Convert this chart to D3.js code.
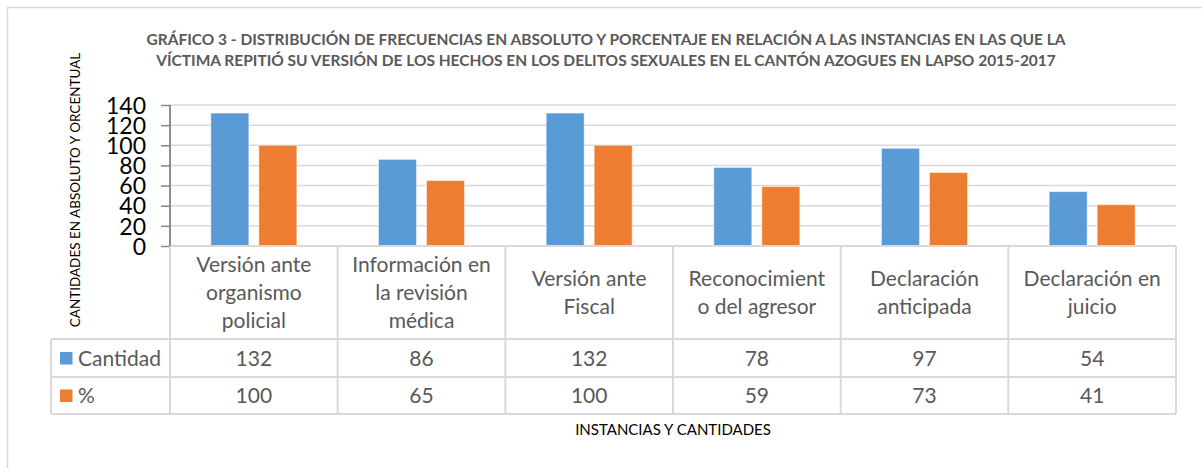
<!DOCTYPE html>
<html>
<head>
<meta charset="utf-8">
<script src="https://cdn.jsdelivr.net/npm/d3@7"></script>
<style>
  body { margin: 0; background: #fff; }
  svg { display: block; font-family: Lato, "Open Sans", sans-serif; }
</style>
</head>
<body>
<div id="chart"></div>
<script>
// Chart data
const categories = [
  "Versión ante\norganismo\npolicial",
  "Información en\nla revisión\nmédica",
  "Versión ante\nFiscal",
  "Reconocimient\no del agresor",
  "Declaración\nanticipada",
  "Declaración en\njuicio"
];
const seriesNames = ["Cantidad", "%"];
const cantidad = [132, 86, 132, 78, 97, 54];
const porcentaje = [100, 65, 100, 59, 73, 41];
const yTicks = [0, 20, 40, 60, 80, 100, 120, 140];

const titleLines = [
  "GRÁFICO 3 - DISTRIBUCIÓN DE FRECUENCIAS EN ABSOLUTO Y PORCENTAJE EN RELACIÓN A LAS INSTANCIAS EN LAS QUE LA",
  "VÍCTIMA REPITIÓ SU VERSIÓN DE LOS HECHOS EN LOS DELITOS SEXUALES EN EL CANTÓN AZOGUES EN LAPSO 2015-2017"
];
const yTitle = "CANTIDADES EN ABSOLUTO Y ORCENTUAL";
const xTitle = "INSTANCIAS Y CANTIDADES";

const W = 1202, H = 468;
const M = { left: 170, right: 1176, top: 105, bottom: 246 };
const table = { left: 51, header: 339, row1: 377, row2: 414 };
const colors = { "Cantidad": "#5b9bd5", "%": "#ed7d31" };
const grid = "#d9d9d9";
const textGray = "#595959";
const fs = 21;

const svg = d3.select("#chart").append("svg")
  .attr("width", W).attr("height", H);

// chart border
svg.append("rect")
  .attr("x", 7.5).attr("y", 7.5)
  .attr("width", W + 10).attr("height", H + 10)
  .attr("fill", "none").attr("stroke", grid).attr("stroke-width", 1.5);

const x = d3.scaleBand().domain(categories).range([M.left, M.right]);
const xs = d3.scaleBand().domain(seriesNames).range([0, x.bandwidth()])
  .paddingInner(0.208).paddingOuter(0.85);
const y = d3.scaleLinear().domain([0, 140]).range([M.bottom, M.top]);

// gridlines
svg.append("g").selectAll("line").data(yTicks.filter(d => d > 0)).join("line")
  .attr("x1", M.left).attr("x2", M.right)
  .attr("y1", d => y(d)).attr("y2", d => y(d))
  .attr("stroke", grid).attr("stroke-width", 1.5);

// bars
const values = { "Cantidad": cantidad, "%": porcentaje };
seriesNames.forEach(s => {
  svg.append("g").selectAll("rect").data(categories).join("rect")
    .attr("x", d => x(d) + xs(s))
    .attr("y", (d, i) => y(values[s][i]))
    .attr("width", xs.bandwidth())
    .attr("height", (d, i) => y(0) - y(values[s][i]))
    .attr("fill", colors[s])
    .attr("stroke", "#fff").attr("stroke-opacity", 0.5).attr("stroke-width", 1);
});

// y axis
const yAxis = d3.axisLeft(y).tickValues(yTicks).tickSize(9).tickPadding(15);
const ga = svg.append("g").attr("transform", `translate(${M.left},0)`).call(yAxis);
ga.select(".domain").attr("stroke", "#868686").attr("stroke-width", 1.5)
  .attr("d", `M0,${M.top}V${M.bottom}`);
ga.selectAll(".tick line").attr("stroke", "#868686").attr("stroke-width", 1.5);
ga.selectAll(".tick text")
  .attr("font-size", 23).attr("fill", "#000")
  .attr("font-family", "Lato, sans-serif")
  .attr("dy", "0.36em");

// data table
const tg = svg.append("g").attr("stroke", grid).attr("stroke-width", 2);
tg.append("line").attr("x1", M.left).attr("x2", M.right).attr("y1", M.bottom).attr("y2", M.bottom);
[table.header, table.row1, table.row2].forEach(yy => {
  tg.append("line").attr("x1", table.left).attr("x2", M.right).attr("y1", yy).attr("y2", yy);
});
tg.append("line").attr("x1", table.left).attr("x2", table.left).attr("y1", table.header).attr("y2", table.row2);
categories.concat([null]).forEach(c => {
  const xx = c ? x(c) : M.right;
  tg.append("line").attr("x1", xx).attr("x2", xx)
    .attr("y1", M.bottom).attr("y2", table.row2);
});
svg.append("line").attr("x1", M.left).attr("x2", M.left).attr("y1", M.top).attr("y2", M.bottom)
  .attr("stroke", "#868686").attr("stroke-width", 1.5);

// header labels
const lineH = 28;
const headMid = (M.bottom + table.header) / 2;
categories.forEach(c => {
  const lines = c.split("\n");
  const t = svg.append("text")
    .attr("text-anchor", "middle").attr("fill", textGray)
    .attr("font-size", fs);
  const y0 = headMid - (lines.length - 1) * lineH / 2 + 7;
  lines.forEach((ln, j) => {
    t.append("tspan").attr("x", x(c) + x.bandwidth() / 2)
      .attr("y", y0 + j * lineH).text(ln);
  });
});

// value rows
const rows = [
  { name: "Cantidad", vals: cantidad, top: table.header, bot: table.row1 },
  { name: "%", vals: porcentaje, top: table.row1, bot: table.row2 }
];
rows.forEach(r => {
  const mid = (r.top + r.bot) / 2;
  svg.append("rect")
    .attr("x", 60).attr("y", mid - 6).attr("width", 12.5).attr("height", 12.5)
    .attr("fill", colors[r.name]);
  svg.append("text").attr("x", 78).attr("y", mid + 7.5)
    .attr("fill", textGray).attr("font-size", fs).text(r.name);
  svg.append("g").selectAll("text").data(categories).join("text")
    .attr("x", d => x(d) + x.bandwidth() / 2)
    .attr("y", mid + 7.5)
    .attr("text-anchor", "middle").attr("fill", textGray).attr("font-size", fs)
    .text((d, i) => r.vals[i]);
});

// title
const tt = svg.append("text").attr("text-anchor", "middle")
  .attr("fill", textGray).attr("font-weight", "bold").attr("font-size", 15.5);
titleLines.forEach((ln, i) => {
  tt.append("tspan").attr("x", 606).attr("y", 45 + i * 21).text(ln);
});

// axis titles
svg.append("text")
  .attr("transform", `translate(80,190) rotate(-90)`)
  .attr("text-anchor", "middle").attr("font-size", 13.5).attr("fill", "#000")
  .text(yTitle);
svg.append("text")
  .attr("x", (M.left + M.right) / 2).attr("y", 435)
  .attr("text-anchor", "middle").attr("font-size", 15).attr("fill", "#000")
  .text(xTitle);
</script>
</body>
</html>
